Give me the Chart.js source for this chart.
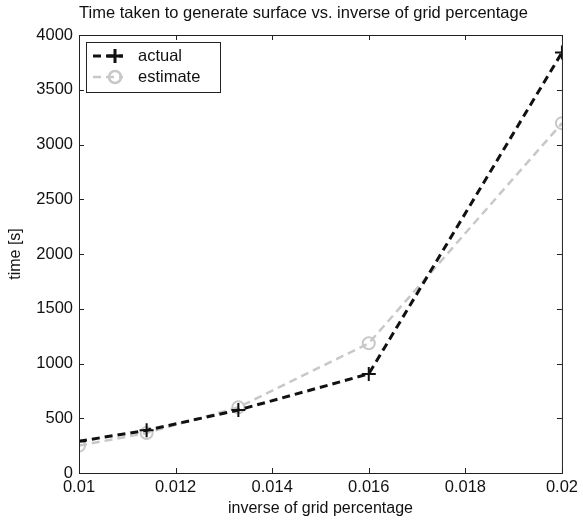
<!DOCTYPE html>
<html>
<head>
<meta charset="utf-8">
<script src="https://cdn.jsdelivr.net/npm/chart.js@4/dist/chart.umd.min.js"></script>
<style>
  html, body { margin: 0; padding: 0; background: #fff; }
  #wrap { width: 583px; height: 526px; }
</style>
</head>
<body>
<div id="wrap"><canvas id="myChart" width="583" height="526"></canvas></div>
<script>
// data
var gridInverse = [0.01, 0.0114, 0.0133, 0.016, 0.02];
var actualTime = [290, 390, 575, 905, 3840];
var estimateTime = [250, 365, 600, 1185, 3195];
var xTicks = [0.01, 0.012, 0.014, 0.016, 0.018, 0.02];
var yTicks = [0, 500, 1000, 1500, 2000, 2500, 3000, 3500, 4000];
var chartTitle = 'Time taken to generate surface vs. inverse of grid percentage';

var fontFamily = '"Liberation Sans", Arial, Helvetica, sans-serif';

function toPoints(xs, ys) {
    var pts = [];
    for (var i = 0; i < xs.length; i++) pts.push({ x: xs[i], y: ys[i] });
    return pts;
}

// box around the plot plus inward tick marks, matlab style
var frame = {
    id: 'frame',
    afterDraw: function(chart) {
        var ctx = chart.ctx, a = chart.chartArea;
        var xs = chart.scales.x, ys = chart.scales.y;
        ctx.save();

        // title, sits a bit left of the plot centre like the original figure
        ctx.fillStyle = '#111';
        ctx.font = '16.5px ' + fontFamily;
        ctx.textAlign = 'center';
        ctx.textBaseline = 'middle';
        ctx.fillText(chartTitle, (a.left + a.right) / 2 - 17, a.top - 22);
        ctx.textAlign = 'left';

        ctx.strokeStyle = '#222';
        ctx.lineWidth = 1;
        ctx.strokeRect(a.left + 0.5, a.top + 0.5, a.right - a.left, a.bottom - a.top);
        ctx.beginPath();
        xTicks.forEach(function(v) {
            var px = Math.round(xs.getPixelForValue(v)) + 0.5;
            ctx.moveTo(px, a.bottom); ctx.lineTo(px, a.bottom - 5);
            ctx.moveTo(px, a.top); ctx.lineTo(px, a.top + 5);
        });
        yTicks.forEach(function(v) {
            var py = Math.round(ys.getPixelForValue(v)) + 0.5;
            ctx.moveTo(a.left, py); ctx.lineTo(a.left + 5, py);
            ctx.moveTo(a.right, py); ctx.lineTo(a.right - 5, py);
        });
        ctx.stroke();

        // legend box in the top left corner
        var bx = a.left + 7, by = a.top + 7, bw = 134, bh = 50;
        ctx.fillStyle = '#fff';
        ctx.fillRect(bx, by, bw, bh);
        ctx.strokeRect(bx + 0.5, by + 0.5, bw, bh);
        var sets = chart.data.datasets;
        for (var i = 0; i < sets.length; i++) {
            var ds = sets[i];
            var cy = by + 14 + i * 21;
            ctx.strokeStyle = ds.borderColor;
            ctx.lineWidth = ds.borderWidth;
            ctx.setLineDash(ds.borderDash);
            ctx.beginPath();
            ctx.moveTo(bx + 7, cy); ctx.lineTo(bx + 37, cy);
            ctx.stroke();
            ctx.setLineDash([]);
            ctx.beginPath();
            if (ds.pointStyle === 'cross') {
                ctx.moveTo(bx + 29, cy - 7); ctx.lineTo(bx + 29, cy + 7);
                ctx.moveTo(bx + 21, cy); ctx.lineTo(bx + 37, cy);
            } else {
                ctx.arc(bx + 29, cy, 6, 0, Math.PI * 2);
            }
            ctx.stroke();
            ctx.fillStyle = '#111';
            ctx.font = '16.5px ' + fontFamily;
            ctx.textBaseline = 'middle';
            ctx.fillText(ds.label, bx + 52, cy);
        }
        ctx.restore();
    }
};

var ctx = document.getElementById('myChart').getContext('2d');
var chart = new Chart(ctx, {
    type: 'scatter',
    data: {
        datasets: [
            {
                label: 'actual',
                data: toPoints(gridInverse, actualTime),
                showLine: true,
                borderColor: '#111',
                backgroundColor: '#111',
                borderWidth: 3,
                borderDash: [8, 5],
                pointStyle: 'cross',
                pointRadius: 7,
                pointBorderWidth: 2
            },
            {
                label: 'estimate',
                data: toPoints(gridInverse, estimateTime),
                showLine: true,
                borderColor: '#c8c8c8',
                backgroundColor: 'rgba(0,0,0,0)',
                borderWidth: 2.5,
                borderDash: [8, 5],
                pointStyle: 'circle',
                pointRadius: 6,
                pointBorderWidth: 2
            }
        ]
    },
    options: {
        responsive: false,
        animation: false,
        layout: { padding: { left: 0, right: 17, top: 35, bottom: 0 } },
        plugins: {
            legend: { display: false },
            tooltip: { enabled: false },
            title: { display: false }
        },
        scales: {
            x: {
                type: 'linear',
                min: 0.01,
                max: 0.02,
                afterBuildTicks: function(s) { s.ticks = xTicks.map(function(v) { return { value: v }; }); },
                afterFit: function(s) { s.height = 53; },
                grid: { display: false, drawTicks: false },
                border: { display: false },
                ticks: {
                    color: '#111',
                    padding: 5,
                    maxRotation: 0,
                    font: { family: fontFamily, size: 16.5 },
                    callback: function(v) { return String(Math.round(v * 1000) / 1000); }
                },
                title: {
                    display: true,
                    text: 'inverse of grid percentage',
                    color: '#111',
                    font: { family: fontFamily, size: 16 },
                    padding: { top: 0, bottom: 8 }
                }
            },
            y: {
                min: 0,
                max: 4000,
                afterBuildTicks: function(s) { s.ticks = yTicks.map(function(v) { return { value: v }; }); },
                afterFit: function(s) { s.width = 79; },
                grid: { display: false, drawTicks: false },
                border: { display: false },
                ticks: {
                    color: '#111',
                    padding: 6,
                    font: { family: fontFamily, size: 16.5 },
                    callback: function(v) { return String(v); }
                },
                title: {
                    display: true,
                    text: 'time [s]',
                    color: '#111',
                    font: { family: fontFamily, size: 16 },
                    padding: { top: 6, bottom: 0 }
                }
            }
        }
    },
    plugins: [frame]
});
</script>
</body>
</html>
